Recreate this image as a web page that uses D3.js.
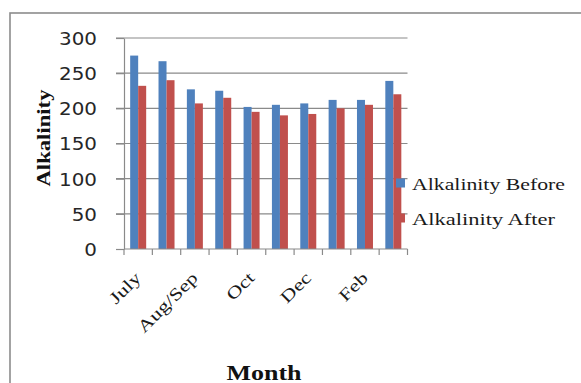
<!DOCTYPE html>
<html>
<head>
<meta charset="utf-8">
<script src="https://cdn.jsdelivr.net/npm/d3@7"></script>
<style>
  html, body { margin: 0; padding: 0; background: #fff; }
  svg { display: block; }
</style>
</head>
<body>
<svg id="chart" width="581" height="383"></svg>
<script>
// Monthly alkalinity readings, before and after treatment
const months = ["July", "Aug", "Aug/Sep", "Sep", "Oct", "Nov", "Dec", "Jan", "Feb", "Mar"];
const alkalinityBefore = [275, 267, 227, 225, 202, 205, 207, 212, 212, 239];
const alkalinityAfter  = [232, 240, 207, 215, 195, 190, 192, 200, 205, 220];
const seriesNames = ["Alkalinity Before", "Alkalinity After"];
const seriesColors = ["#4F81BD", "#C0504D"];
const yTicks = [0, 50, 100, 150, 200, 250, 300];

const rows = months.map((m, i) => ({ month: m, values: [alkalinityBefore[i], alkalinityAfter[i]] }));

const svg = d3.select("#chart");
const gridColor = "#8a8a8a";
const serif = "'Liberation Serif', 'Times New Roman', serif";

// Stretch a text element horizontally to a target length
function fitLength(sel, target) {
  sel.attr("textLength", target).attr("lengthAdjust", "spacingAndGlyphs");
}
function stretch(sel, k) {
  sel.each(function () {
    const len = this.getComputedTextLength();
    d3.select(this).attr("textLength", len * k).attr("lengthAdjust", "spacingAndGlyphs");
  });
}

// Outer chart frame
svg.append("rect")
  .attr("x", 10).attr("y", 13)
  .attr("width", 640).attr("height", 420)
  .attr("fill", "none")
  .attr("stroke", "#8c8c8c")
  .attr("stroke-width", 1.6);

const plot = { left: 124, right: 407.5, top: 38, bottom: 249 };

const x = d3.scaleBand().domain(months).range([plot.left, plot.right]).padding(0);
const groupW = 16;
const x1 = d3.scaleBand().domain([0, 1])
  .range([(x.bandwidth() - groupW) / 2, (x.bandwidth() + groupW) / 2]);
const y = d3.scaleLinear().domain([0, 300]).range([plot.bottom, plot.top]);

// Horizontal gridlines
svg.append("g")
  .selectAll("line")
  .data(yTicks.filter(t => t > 0))
  .join("line")
  .attr("x1", plot.left - 8).attr("x2", plot.right)
  .attr("y1", d => y(d)).attr("y2", d => y(d))
  .attr("stroke", gridColor).attr("stroke-width", 1.2);

// Bars
const groups = svg.append("g")
  .selectAll("g")
  .data(rows)
  .join("g")
  .attr("transform", d => `translate(${x(d.month)},0)`);

groups.selectAll("rect")
  .data(d => d.values.map((v, s) => ({ v, s })))
  .join("rect")
  .attr("x", d => x1(d.s))
  .attr("width", x1.bandwidth())
  .attr("y", d => y(d.v))
  .attr("height", d => y(0) - y(d.v))
  .attr("fill", d => seriesColors[d.s]);

// Y axis
const yAxis = svg.append("g")
  .attr("transform", `translate(${plot.left},0)`)
  .call(d3.axisLeft(y).tickValues(yTicks).tickSize(8).tickSizeOuter(0).tickPadding(19));
yAxis.select(".domain").attr("stroke", gridColor).attr("stroke-width", 1.2);
yAxis.selectAll(".tick line").attr("stroke", gridColor).attr("stroke-width", 1.2);
yAxis.selectAll(".tick text")
  .attr("font-family", "'DejaVu Sans', Verdana, sans-serif")
  .attr("font-size", 17)
  .attr("fill", "#262626")
  .attr("dy", "0.38em")
  .call(stretch, 1.17);

// X axis line and boundary tick marks
const xAxis = svg.append("g");
xAxis.append("line")
  .attr("x1", plot.left).attr("x2", plot.right)
  .attr("y1", y(0)).attr("y2", y(0))
  .attr("stroke", gridColor).attr("stroke-width", 1.2);
xAxis.selectAll("line.tick")
  .data(months.map(m => x(m)).concat([x(months[months.length - 1]) + x.bandwidth()]))
  .join("line")
  .attr("class", "tick")
  .attr("x1", d => d).attr("x2", d => d)
  .attr("y1", y(0)).attr("y2", y(0) + 6)
  .attr("stroke", gridColor).attr("stroke-width", 1.2);

// Category labels (every other month, rotated)
xAxis.selectAll("text")
  .data(months.filter((m, i) => i % 2 === 0))
  .join("text")
  .attr("transform", d => `translate(${x(d) + x.bandwidth() / 2 + 4},${y(0) + 30}) rotate(-45)`)
  .attr("text-anchor", "end")
  .attr("font-family", serif)
  .attr("font-size", 17)
  .attr("fill", "#1a1a1a")
  .text(d => d)
  .call(stretch, 1.3);

// Axis titles
svg.append("text")
  .attr("transform", `translate(50,138) rotate(-90)`)
  .attr("text-anchor", "middle")
  .attr("font-family", serif)
  .attr("font-weight", "bold")
  .attr("font-size", 19)
  .attr("fill", "#111")
  .text("Alkalinity")
  .call(fitLength, 97);

svg.append("text")
  .attr("x", 264).attr("y", 380)
  .attr("text-anchor", "middle")
  .attr("font-family", serif)
  .attr("font-weight", "bold")
  .attr("font-size", 20)
  .attr("fill", "#111")
  .text("Month")
  .call(fitLength, 75);

// Legend
const legend = svg.append("g")
  .selectAll("g")
  .data(seriesNames)
  .join("g")
  .attr("transform", (d, i) => `translate(396,${183 + i * 35})`);
legend.append("rect")
  .attr("x", 0).attr("y", -4.5)
  .attr("width", 9).attr("height", 9)
  .attr("fill", (d, i) => seriesColors[i]);
legend.append("text")
  .attr("x", 16).attr("y", 6.5)
  .attr("font-family", serif)
  .attr("font-size", 17.5)
  .attr("fill", "#1a1a1a")
  .text(d => d)
  .each(function (d, i) { d3.select(this).call(fitLength, i === 0 ? 153 : 143); });
</script>
</body>
</html>
